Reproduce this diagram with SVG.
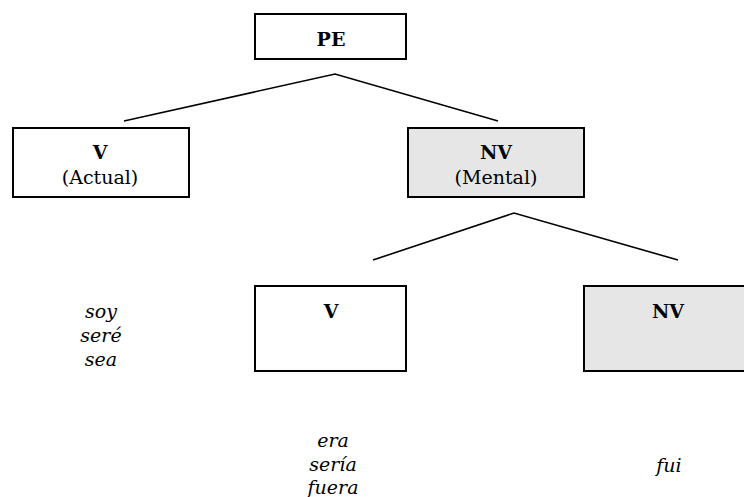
<svg xmlns="http://www.w3.org/2000/svg" width="744" height="497" viewBox="0 0 744 497">
<style>
.box{fill:#ffffff;stroke:#000;stroke-width:2}
.grey{fill:#e6e6e6}
.b{font-family:"DejaVu Serif","Liberation Serif",serif;font-weight:bold;font-size:19px;text-anchor:middle;fill:#000}
.r{font-family:"DejaVu Serif","Liberation Serif",serif;font-size:19px;text-anchor:middle;fill:#000}
.i{font-family:"DejaVu Serif","Liberation Serif",serif;font-style:italic;font-size:19px;text-anchor:middle;fill:#000}
.ln{stroke:#000;stroke-width:1.6;fill:none}
</style>
<rect width="744" height="497" fill="#fff"/>
<g id="connectors">
<polyline class="ln" points="124,121 335,74 498,121"/>
<polyline class="ln" points="373,260 514,213 678,260"/>
</g>
<g id="pe">
<rect class="box" x="255" y="14" width="151" height="45"/>
<text class="b" x="331" y="46">PE</text>
</g>
<g id="v-actual">
<rect class="box" x="13" y="128" width="176" height="69"/>
<text class="b" x="100" y="159">V</text>
<text class="r" x="100" y="184">(Actual)</text>
</g>
<g id="nv-mental">
<rect class="box grey" x="408" y="128" width="176" height="69"/>
<text class="b" x="496" y="159">NV</text>
<text class="r" x="496" y="184">(Mental)</text>
</g>
<g id="v2">
<rect class="box" x="255" y="286" width="151" height="85"/>
<text class="b" x="331" y="318">V</text>
</g>
<g id="nv2">
<rect class="box grey" x="584" y="286" width="170" height="85"/>
<text class="b" x="668" y="318">NV</text>
</g>
<g id="forms-actual">
<text class="i" x="101" y="318">soy</text>
<text class="i" x="101" y="342">seré</text>
<text class="i" x="101" y="366">sea</text>
</g>
<g id="forms-v2">
<text class="i" x="333" y="447">era</text>
<text class="i" x="333" y="471">sería</text>
<text class="i" x="333" y="494">fuera</text>
</g>
<g id="forms-nv2">
<text class="i" x="669" y="472">fui</text>
</g>
</svg>
